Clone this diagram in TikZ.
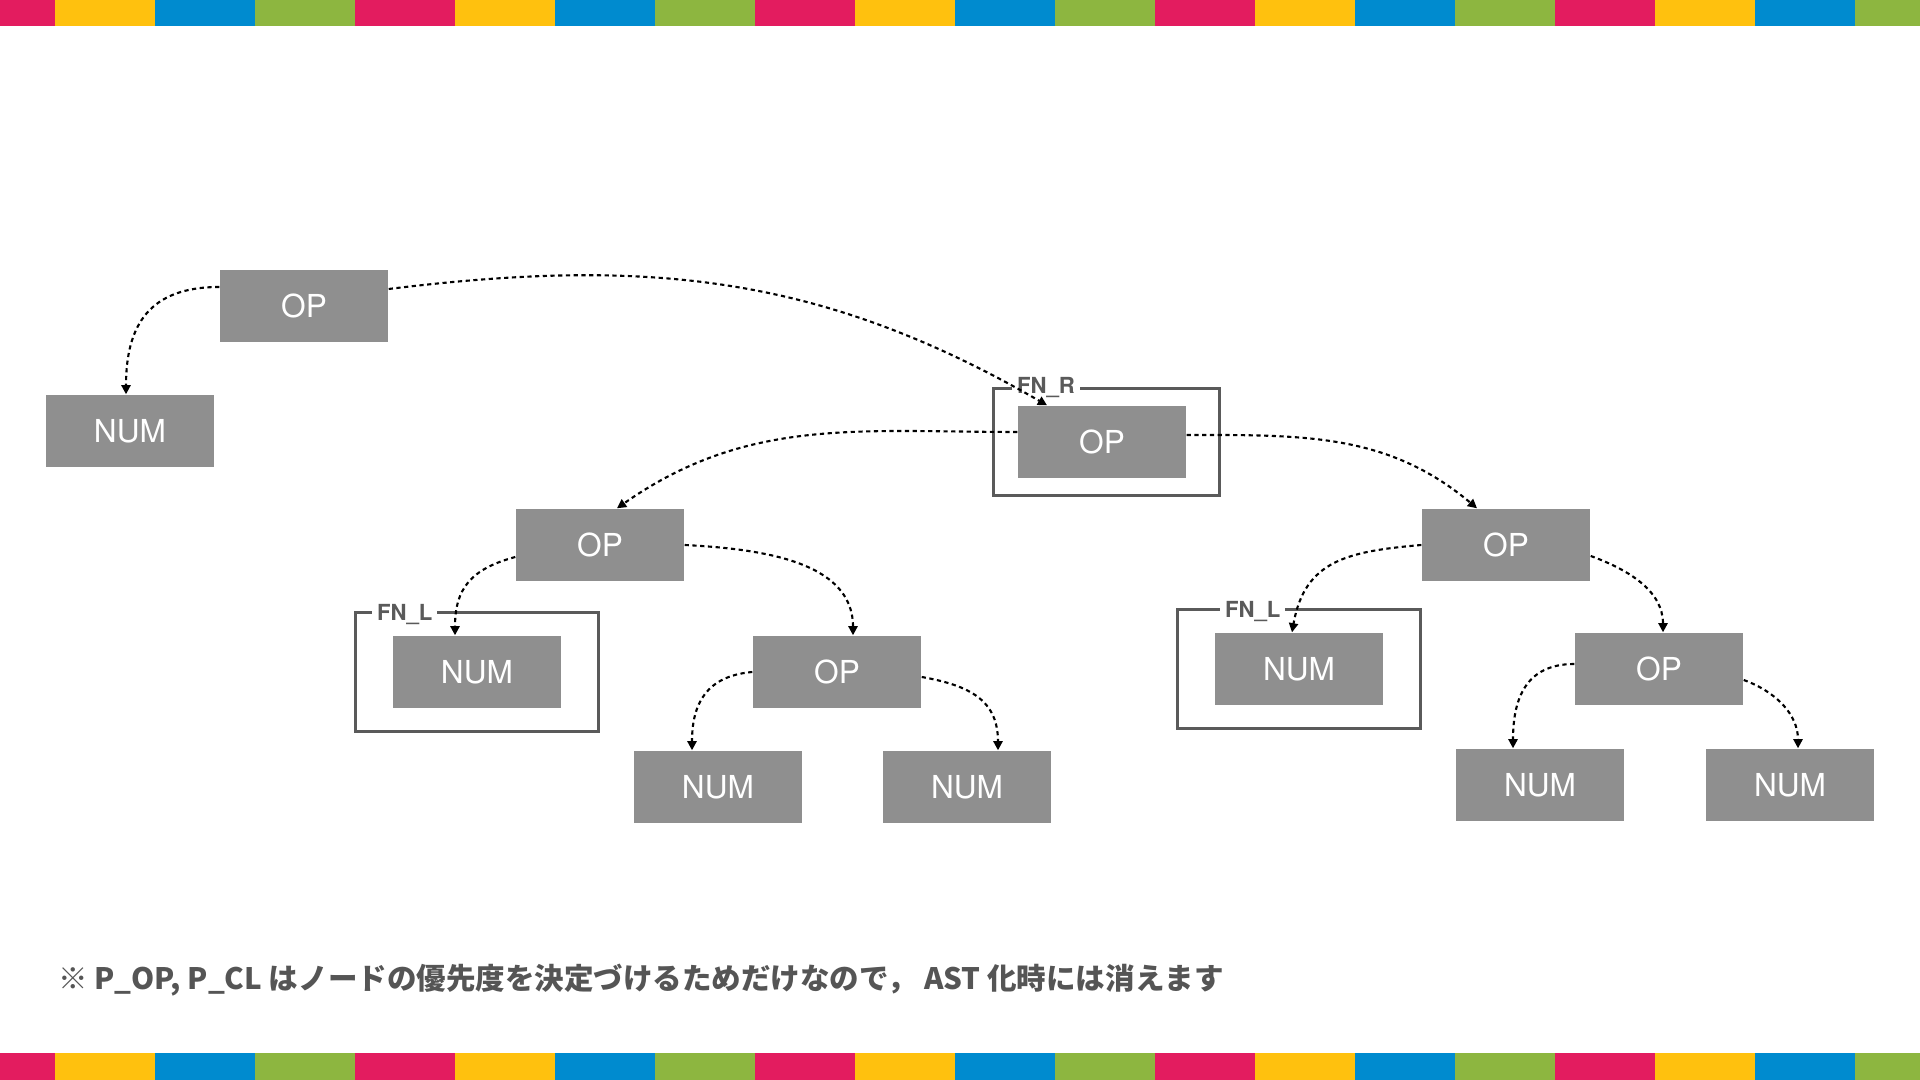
\documentclass[tikz,border=0pt]{standalone}
\usepackage{fontspec}
\setmainfont{TeX Gyre Heros}
\newfontfamily\jpfont{Noto Sans CJK JP}
\usetikzlibrary{arrows.meta}

\definecolor{boxgray}{RGB}{143,143,143}
\definecolor{framegray}{RGB}{90,90,90}
\definecolor{notegray}{RGB}{85,85,85}
\definecolor{barpink}{RGB}{227,28,95}
\definecolor{baryellow}{RGB}{255,193,14}
\definecolor{barblue}{RGB}{0,139,207}
\definecolor{bargreen}{RGB}{141,182,64}

\tikzset{
  tok/.style={fill=boxgray,text=white,minimum width=1.68cm,minimum height=0.72cm,inner sep=0pt,font=\fontsize{9}{10}\selectfont},
  fnframe/.style={draw=framegray,line width=0.85pt},
  fnlabel/.style={fill=white,text=framegray,inner xsep=0.05cm,inner ysep=0.5pt,anchor=base west,font=\fontsize{6.3}{7}\selectfont\bfseries},
  link/.style={-{Triangle[length=2.6pt,width=2.6pt]},line width=0.6pt,dash pattern=on 1.2pt off 1pt},
}

\begin{document}
\begin{tikzpicture}
\useasboundingbox (0,0) rectangle (19.2,10.8);

%---------------------------------------------------
%colour bars, top and bottom
\begin{scope}
\clip (0,0) rectangle (19.2,10.8);
\foreach \c [count=\i from 0] in {barpink,baryellow,barblue,bargreen}{
  \foreach \j in {0,...,4}{
    \fill[\c] ({\i+4*\j-0.45},10.54) rectangle ++(1,0.26);
    \fill[\c] ({\i+4*\j-0.45},0) rectangle ++(1,0.27);
  }
}
\end{scope}

%---------------------------------------------------
%tokens
\node[tok] (op1)  at (3.04,7.74)  {OP};
\node[tok] (num1) at (1.30,6.49)  {NUM};
\node[tok] (op2)  at (11.02,6.38) {OP};
\node[tok] (op3)  at (6.00,5.35)  {OP};
\node[tok] (op4)  at (15.06,5.35) {OP};
\node[tok] (num2) at (4.77,4.08)  {NUM};
\node[tok] (op5)  at (8.37,4.08)  {OP};
\node[tok] (num3) at (7.18,2.93)  {NUM};
\node[tok] (num4) at (9.67,2.93)  {NUM};
\node[tok] (num5) at (12.99,4.11) {NUM};
\node[tok] (op6)  at (16.59,4.11) {OP};
\node[tok] (num6) at (15.40,2.95) {NUM};
\node[tok] (num7) at (17.90,2.95) {NUM};

%---------------------------------------------------
%FN frames
\coordinate (fnr) at ([shift={(-0.24,0.17)}]op2.north west);
\draw[fnframe] (fnr) rectangle ([shift={(0.33,-0.17)}]op2.south east);
\node[fnlabel] (fnrlabel) at ([shift={(0.18,-0.05)}]fnr) {FN\_R};

\coordinate (fnla) at ([shift={(-0.37,0.23)}]num2.north west);
\draw[fnframe] (fnla) rectangle ([shift={(0.37,-0.23)}]num2.south east);
\node[fnlabel] (fnlalabel) at ([shift={(0.16,-0.08)}]fnla) {FN\_L};

\coordinate (fnlb) at ([shift={(-0.37,0.23)}]num5.north west);
\draw[fnframe] (fnlb) rectangle ([shift={(0.37,-0.23)}]num5.south east);
\node[fnlabel] (fnlblabel) at ([shift={(0.42,-0.08)}]fnlb) {FN\_L};

%---------------------------------------------------
%links
\draw[link] ([yshift=0.19cm]op1.west) to[out=180,in=90,looseness=1.25] ([xshift=-0.04cm]num1.north);
\draw[link] ([yshift=0.17cm]op1.east) to[out=7,in=150] ([xshift=-0.55cm]op2.north);
\draw[link] ([yshift=0.10cm]op2.west) to[out=180,in=35] ([xshift=0.17cm]op3.north);
\draw[link] ([yshift=0.07cm]op2.east) to[out=0,in=140] ([xshift=-0.29cm]op4.north);
\draw[link] ([yshift=-0.12cm]op3.west) to[out=195,in=90,looseness=1.2] ([xshift=-0.22cm]num2.north);
\draw[link] (op3.east) to[out=-3,in=90] ([xshift=0.16cm]op5.north);
\draw[link] (op5.west) to[out=185,in=90,looseness=1.2] ([xshift=-0.26cm]num3.north);
\draw[link] ([yshift=-0.05cm]op5.east) to[out=-10,in=90,looseness=1.2] ([xshift=0.31cm]num4.north);
\draw[link] (op4.west) to[out=185,in=80,looseness=1.2] ([xshift=-0.07cm]num5.north);
\draw[link] ([yshift=-0.11cm]op4.east) to[out=-20,in=90] ([xshift=0.04cm]op6.north);
\draw[link] ([yshift=0.05cm]op6.west) to[out=180,in=90,looseness=1.2] ([xshift=-0.27cm]num6.north);
\draw[link] ([yshift=-0.11cm]op6.east) to[out=-20,in=90] ([xshift=0.08cm]num7.north);

%---------------------------------------------------
\node[anchor=west,inner sep=0pt,text=notegray,font=\jpfont\bfseries\fontsize{8.4}{10}\selectfont] (note) at (0.575,1.0)
  {※ P\_OP, P\_CL はノードの優先度を決定づけるためだけなので，\ AST 化時には消えます};

\end{tikzpicture}
\end{document}
